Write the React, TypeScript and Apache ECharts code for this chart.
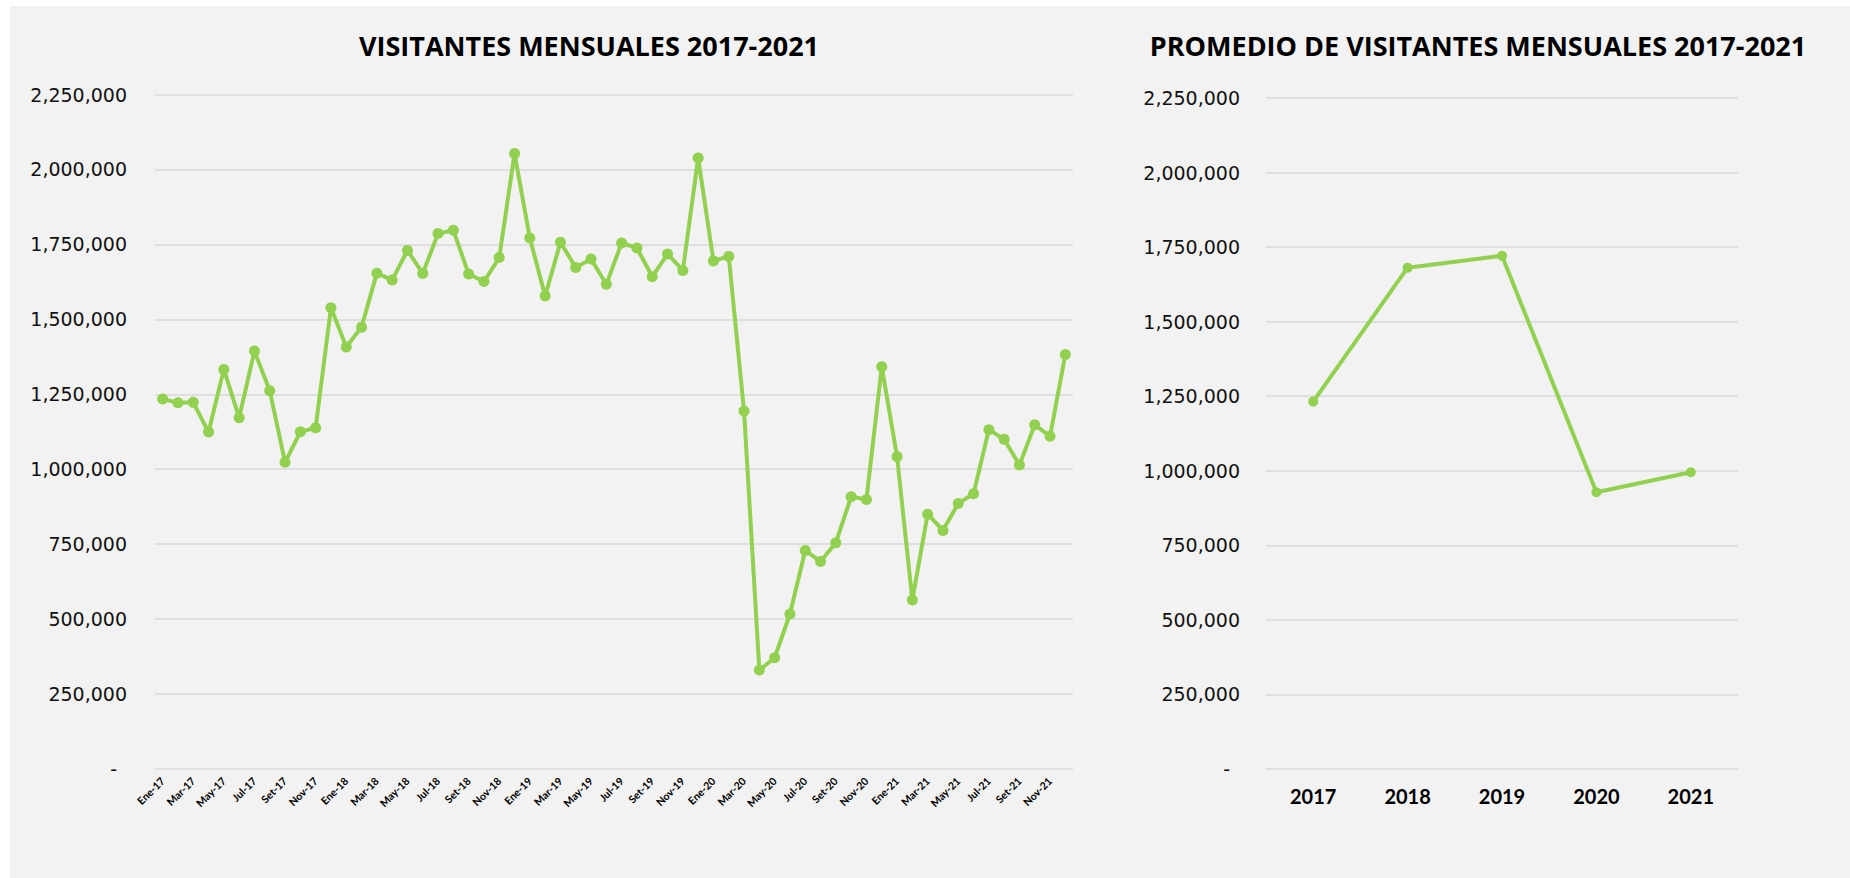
import React, { useEffect, useRef } from "react";
import * as echarts from "echarts";

const monthLabels: string[] = [
  "Ene-17", "Feb-17", "Mar-17", "Abr-17", "May-17", "Jun-17", "Jul-17", "Ago-17", "Set-17", "Oct-17", "Nov-17", "Dic-17",
  "Ene-18", "Feb-18", "Mar-18", "Abr-18", "May-18", "Jun-18", "Jul-18", "Ago-18", "Set-18", "Oct-18", "Nov-18", "Dic-18",
  "Ene-19", "Feb-19", "Mar-19", "Abr-19", "May-19", "Jun-19", "Jul-19", "Ago-19", "Set-19", "Oct-19", "Nov-19", "Dic-19",
  "Ene-20", "Feb-20", "Mar-20", "Abr-20", "May-20", "Jun-20", "Jul-20", "Ago-20", "Set-20", "Oct-20", "Nov-20", "Dic-20",
  "Ene-21", "Feb-21", "Mar-21", "Abr-21", "May-21", "Jun-21", "Jul-21", "Ago-21", "Set-21", "Oct-21", "Nov-21", "Dic-21",
];

const monthlyVisitors: number[] = [
  1234000, 1222000, 1223000, 1124000, 1333000, 1172000, 1394000, 1262000, 1023000, 1125000, 1138000, 1539000,
  1408000, 1474000, 1654000, 1631000, 1730000, 1653000, 1786000, 1797000, 1651000, 1626000, 1706000, 2053000,
  1771000, 1578000, 1757000, 1673000, 1701000, 1617000, 1755000, 1738000, 1642000, 1718000, 1663000, 2038000,
  1695000, 1710000, 1194000, 330000, 371000, 517000, 729000, 692000, 755000, 908000, 899000, 1342000,
  1042000, 564000, 850000, 796000, 886000, 918000, 1132000, 1100000, 1014000, 1148000, 1110000, 1383000,
];

const years: string[] = ["2017", "2018", "2019", "2020", "2021"];
const yearlyAverage: number[] = [1232000, 1681000, 1721000, 928000, 995000];

const titleLeft = "VISITANTES MENSUALES 2017-2021";
const titleRight = "PROMEDIO DE VISITANTES MENSUALES 2017-2021";

const yMin = 0;
const yMax = 2250000;
const yInterval = 250000;

const GREEN = "#92d050";

function fmt(v: number): string {
  if (v === 0) return "{z|-}";
  return v.toLocaleString("en-US");
}

export default function App() {
  const ref = useRef<HTMLDivElement>(null);

  useEffect(() => {
    if (!ref.current) return;
    const chart = echarts.init(ref.current, undefined, { renderer: "svg" });
    const yLabel = (margin: number) => ({
      fontFamily: "DejaVu Sans",
      fontSize: 19,
      color: "#111",
      margin,
      formatter: fmt,
      rich: { z: { fontFamily: "DejaVu Sans", fontSize: 19, color: "#111", padding: [0, 10, 0, 0] } },
    });
    const split = { show: true, lineStyle: { color: "#d9d9d9", width: 1.5 } };
    chart.setOption({
      animation: false,
      backgroundColor: "#f2f2f2",
      title: [
        {
          text: titleLeft,
          left: 579,
          top: 26,
          textAlign: "center",
          padding: 0,
          textStyle: { fontFamily: "Open Sans", fontWeight: "bold", fontSize: 27, color: "#000", lineHeight: 27 },
        },
        {
          text: titleRight,
          left: 1468,
          top: 26,
          textAlign: "center",
          padding: 0,
          textStyle: { fontFamily: "Open Sans", fontWeight: "bold", fontSize: 27, color: "#000", lineHeight: 27 },
        },
      ],
      grid: [
        { left: 145, right: 777, top: 88.5, bottom: 109 },
        { left: 1256, right: 112, top: 92, bottom: 109 },
      ],
      xAxis: [
        {
          type: "category",
          gridIndex: 0,
          data: monthLabels,
          boundaryGap: true,
          axisLine: { show: false },
          axisTick: { show: false },
          axisLabel: {
            interval: 1,
            rotate: 45,
            fontFamily: "Lato",
            fontWeight: "bold",
            fontSize: 10.5,
            color: "#000",
            margin: 10,
          },
        },
        {
          type: "category",
          gridIndex: 1,
          data: years,
          boundaryGap: true,
          axisLine: { show: false },
          axisTick: { show: false },
          axisLabel: {
            fontFamily: "Lato",
            fontWeight: "bold",
            fontSize: 20,
            color: "#000",
            margin: 17,
          },
        },
      ],
      yAxis: [
        {
          type: "value",
          gridIndex: 0,
          min: yMin,
          max: yMax,
          interval: yInterval,
          axisLine: { show: false },
          axisTick: { show: false },
          splitLine: split,
          axisLabel: yLabel(28),
        },
        {
          type: "value",
          gridIndex: 1,
          min: yMin,
          max: yMax,
          interval: yInterval,
          axisLine: { show: false },
          axisTick: { show: false },
          splitLine: split,
          axisLabel: yLabel(26),
        },
      ],
      series: [
        {
          type: "line",
          xAxisIndex: 0,
          yAxisIndex: 0,
          data: monthlyVisitors,
          symbol: "circle",
          symbolSize: 11,
          showSymbol: true,
          showAllSymbol: true,
          lineStyle: { color: GREEN, width: 4 },
          itemStyle: { color: GREEN },
        },
        {
          type: "line",
          xAxisIndex: 1,
          yAxisIndex: 1,
          data: yearlyAverage,
          symbol: "circle",
          symbolSize: 10,
          showSymbol: true,
          showAllSymbol: true,
          lineStyle: { color: GREEN, width: 4 },
          itemStyle: { color: GREEN },
        },
      ],
    });
    return () => chart.dispose();
  }, []);

  return (
    <div style={{ position: "absolute", left: 0, top: 0, width: 1850, height: 878, background: "#fff" }}>
      <div ref={ref} style={{ position: "absolute", left: 10, top: 6, width: 1840, height: 872 }} />
    </div>
  );
}
